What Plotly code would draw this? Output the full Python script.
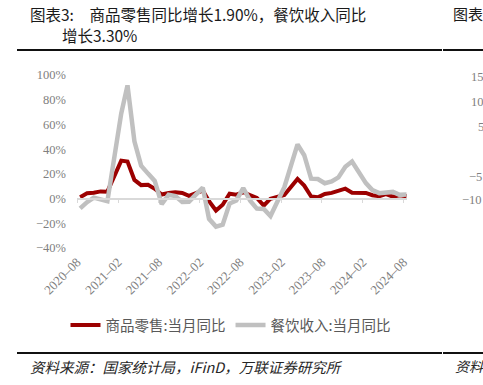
import plotly.graph_objects as go

# ---------------- data ----------------
months = (["2020-%02d" % m for m in range(8, 13)]
          + ["2021-%02d" % m for m in range(2, 13)]
          + ["2022-%02d" % m for m in range(2, 13)]
          + ["2023-%02d" % m for m in range(2, 13)]
          + ["2024-%02d" % m for m in range(2, 9)])

goods = [1.1, 4.3, 4.7, 5.8, 5.6,
         30.7, 30.0, 15.1, 10.9, 11.2, 7.9, 3.3, 4.5, 5.2, 4.6, 2.2,
         6.5, -2.1, -9.7, -5.0, 3.9, 3.2, 5.1, 3.0, 0.5, -5.6, -0.1,
         2.9, 9.1, 15.9, 10.5, 1.7, 1.0, 3.7, 4.6, 6.5, 8.0, 4.8,
         4.6, 2.7, 2.0, 3.6, 1.5, 2.7, 1.9]

catering = [-8.0, -2.9, 0.8, -0.6, -2.2,
            68.9, 91.6, 46.4, 26.6, 20.2, 14.3, -4.5, 3.1, 2.0, -2.7, -2.5,
            8.9, -16.4, -22.7, -21.1, -4.0, -1.5, 8.4, -1.7, -8.1, -8.4, -14.1,
            9.2, 26.3, 43.8, 35.1, 16.1, 15.8, 12.4, 13.8, 17.1, 25.8, 30.0,
            12.5, 6.9, 4.4, 5.0, 5.4, 3.0, 3.3]

tick_months = ["2020-08", "2021-02", "2021-08", "2022-02", "2022-08",
               "2023-02", "2023-08", "2024-02", "2024-08"]
tick_labels = [m.replace("-", "–") for m in tick_months]

series_names = ["商品零售:当月同比", "餐饮收入:当月同比"]

title_line1 = "图表3:\u3000商品零售同比增长1.90%，餐饮收入同比"
title_line2 = "增长3.30%"
source_text = "资料来源：国家统计局，iFinD，万联证券研究所"

# ---------------- layout geometry ----------------
W, H = 483, 385
L, R, T, B = 77, 407, 75, 248
YMIN, YMAX = -40, 100

def px(x):  # page pixel -> paper fraction
    return (x - L) / (R - L)

def py(y):
    return (B - y) / (B - T)

dates = [m + "-15" for m in months]
tickvals = [m + "-01" for m in tick_months]
xrange_ = ["2020-08-01", "2024-08-17"]

RED = "#9c0000"
GRAY = "#c0c0c0"
CJK = "Noto Sans CJK SC"
SERIF = "Liberation Serif, Times New Roman, serif"

fig = go.Figure()
fig.add_trace(go.Scatter(x=dates, y=goods, mode="lines", name=series_names[0],
                         line=dict(color=RED, width=4), xaxis="x", yaxis="y"))
fig.add_trace(go.Scatter(x=dates, y=catering, mode="lines", name=series_names[1],
                         line=dict(color=GRAY, width=4.5), xaxis="x2", yaxis="y"))

zero_pos = (0 - YMIN) / (YMAX - YMIN)

fig.update_layout(
    width=W, height=H,
    margin=dict(l=L, r=W - R, t=T, b=H - B, pad=0, autoexpand=False),
    paper_bgcolor="white", plot_bgcolor="white",
    showlegend=True,
    legend=dict(orientation="h", xref="container", yref="container",
                x=231 / W, xanchor="center", y=1 - 325 / H, yanchor="middle",
                font=dict(family=CJK, size=14.5, color="#595959"),
                bgcolor="rgba(0,0,0,0)", itemwidth=30, traceorder="normal"),
    xaxis=dict(type="date", range=xrange_, anchor="free", position=zero_pos,
               showline=True, linecolor="#d9d9d9", linewidth=1.5,
               ticks="outside", ticklen=4, tickcolor="#d9d9d9", tickwidth=1,
               tickvals=tickvals, showticklabels=False, showgrid=False,
               zeroline=False),
    xaxis2=dict(type="date", range=xrange_, overlaying="x", anchor="y", side="bottom",
                showline=False, ticks="", tickvals=tickvals, ticktext=tick_labels,
                tickangle=-45, ticklabelstandoff=3, showgrid=False, zeroline=False,
                tickfont=dict(family=SERIF, size=13, color="#808080")),
    yaxis=dict(range=[YMIN, YMAX], dtick=20, tick0=0, ticksuffix="%",
               showgrid=False, zeroline=False, showline=False, ticks="",
               ticklabelstandoff=10,
               tickfont=dict(family=SERIF, size=12.5, color="#808080")),
)

ann = []
ann.append(dict(text=title_line1, x=px(28), y=py(14), xanchor="left", yanchor="middle",
                font=dict(family=CJK, size=15.5, color="#1a1a1a")))
ann.append(dict(text=title_line2, x=px(60), y=py(35), xanchor="left", yanchor="middle",
                font=dict(family=CJK, size=15.5, color="#1a1a1a")))
ann.append(dict(text="图表", x=px(451), y=py(14), xanchor="left", yanchor="middle",
                font=dict(family=CJK, size=15, color="#1a1a1a")))
ann.append(dict(text="<i>" + source_text + "</i>", x=px(28), y=py(366), xanchor="left",
                yanchor="middle", font=dict(family=CJK, size=14.5, color="#262626")))
ann.append(dict(text="<i>资料</i>", x=px(453), y=py(366), xanchor="left",
                yanchor="middle", font=dict(family=CJK, size=14, color="#262626")))
for txt, xx, yy in [("15", 469, 77), ("10", 469, 101.5), ("5", 476, 126.5),
                    ("−5", 467, 176.5), ("−10", 460, 200)]:
    ann.append(dict(text=txt, x=px(xx), y=py(yy), xanchor="left", yanchor="middle",
                    font=dict(family=SERIF, size=12.5, color="#808080")))
for a in ann:
    a.update(xref="paper", yref="paper", showarrow=False)
fig.update_layout(annotations=ann)

shapes = []
for yy in (50, 353):
    for x0, x1 in ((17, 442), (443, 483)):
        shapes.append(dict(type="line", xref="paper", yref="paper",
                           x0=px(x0), x1=px(x1), y0=py(yy), y1=py(yy),
                           line=dict(color="#111111", width=2.2)))
fig.update_layout(shapes=shapes)

fig.write_html("out.html",
               config={"displayModeBar": False},
               post_script="document.body.style.margin='0';document.body.style.overflow='hidden';")
